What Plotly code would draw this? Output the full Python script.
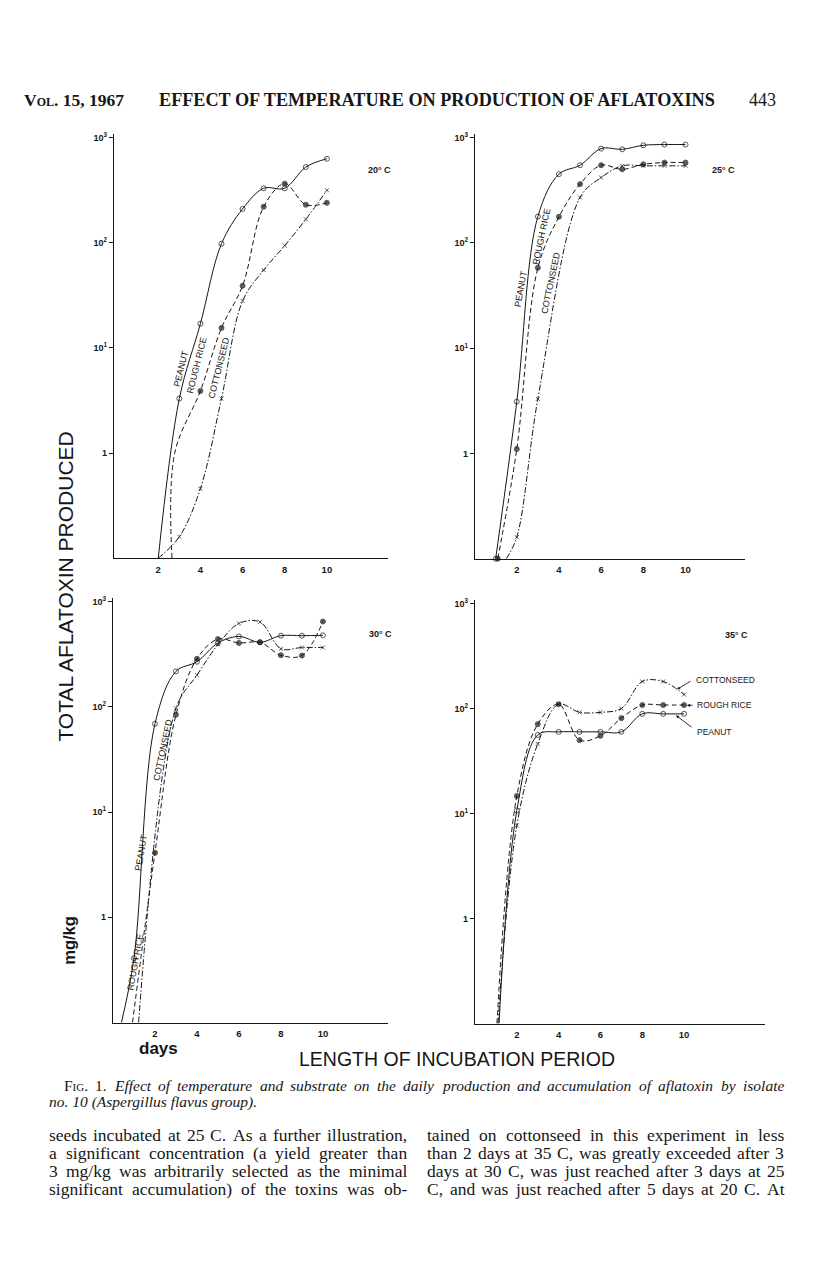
import plotly.graph_objects as go

W, H = 816, 1270

# ---------------- data (mg/kg) ----------------
# 20 C
peanut20_day = [2, 3, 4, 5, 6, 7, 8, 9, 10]
peanut20_val = [0.1, 3.3, 17, 98, 210, 330, 330, 525, 630]
rice20_day = [2.65, 2.78, 4, 5, 6, 7, 8, 9, 10]
rice20_val = [0.1, 1.0, 3.9, 15.5, 39, 220, 365, 230, 240]
cotton20_day = [2, 3, 4, 5, 6, 7, 8, 9, 10]
cotton20_val = [0.1, 0.16, 0.46, 3.3, 28, 55, 94, 167, 316]

# 25 C
peanut25_day = [1, 2, 3, 4, 5, 6, 7, 8, 9, 10]
peanut25_val = [0.1, 3.1, 178, 450, 547, 787, 775, 846, 860, 860]
rice25_day = [1.1, 2, 3, 4, 5, 6, 7, 8, 9, 10]
rice25_val = [0.1, 1.1, 58, 177, 362, 547, 500, 558, 580, 580]
cotton25_day = [1.5, 2, 3, 5, 6, 7, 8, 9, 10]
cotton25_val = [0.1, 0.16, 3.3, 270, 418, 540, 540, 540, 540]

# 30 C
peanut30_day = [0.4, 1, 2, 3, 4, 5, 6, 7, 8, 9, 10]
peanut30_val = [0.1, 0.41, 69, 217, 268, 404, 466, 410, 474, 474, 478]
rice30_day = [0.93, 2, 3, 4, 5, 6, 7, 8, 9, 10]
rice30_val = [0.1, 4.1, 84, 286, 440, 404, 410, 309, 307, 646]
cotton30_day = [1.22, 3, 4, 5, 6, 7, 8, 9, 10]
cotton30_val = [0.1, 97, 200, 390, 620, 640, 356, 366, 366]

# 35 C
peanut35_day = [1.15, 2, 3, 4, 5, 6, 7, 8, 9, 10]
peanut35_val = [0.1, 10.7, 56, 60, 60, 60, 60, 89, 89, 89]
rice35_day = [1.05, 2, 3, 4, 5, 6, 7, 8, 9, 10]
rice35_val = [0.1, 14.7, 71, 110, 50, 55, 81, 108, 108, 108]
cotton35_day = [1.1, 2, 3, 4, 5, 6, 7, 8, 9, 10]
cotton35_val = [0.1, 7.7, 46, 110, 92, 92, 100, 181, 181, 136]

temps = ["20° C", "25° C", "30° C", "35° C"]
substrates = ["PEANUT", "ROUGH RICE", "COTTONSEED"]
# number of leading (unmarked) curve points per series, per panel
unmarked_start = [[1, 2, 1], [0, 0, 1], [1, 1, 1], [1, 1, 1]]

y_tickvals = [1, 10, 100, 1000]
y_ticktext = ["1", "10<sup>1</sup>", "10<sup>2</sup>", "10<sup>3</sup>"]
x_tickvals = [2, 4, 6, 8, 10]
x_ticktext = ["2", "4", "6", "8", "10"]

series = [
    [(peanut20_day, peanut20_val), (rice20_day, rice20_val), (cotton20_day, cotton20_val)],
    [(peanut25_day, peanut25_val), (rice25_day, rice25_val), (cotton25_day, cotton25_val)],
    [(peanut30_day, peanut30_val), (rice30_day, rice30_val), (cotton30_day, cotton30_val)],
    [(peanut35_day, peanut35_val), (rice35_day, rice35_val), (cotton35_day, cotton35_val)],
]

# ---------------- layout geometry (pixels) ----------------
# (x_left_px, x_right_px, day_range, y_top_px, y_bottom_px)
panels = [
    (114, 388, [-0.1, 12.9], 131.8, 556.5),
    (475, 745, [0.02, 12.82], 131.8, 557.0),
    (113, 388, [0.0, 13.1], 596.8, 1022.0),
    (475, 765, [0.0, 13.87], 598.8, 1023.0),
]

INK = "#161616"
styles = [
    dict(dash="solid", symbol="circle-open", msize=5),
    dict(dash="5px,3px", symbol="circle", msize=5),
    dict(dash="6px,2px,1.5px,2px", symbol="x-thin-open", msize=4),
]

fig = go.Figure()
layout = dict(
    width=W, height=H, margin=dict(l=0, r=0, t=0, b=0),
    paper_bgcolor="white", plot_bgcolor="rgba(0,0,0,0)",
    showlegend=False, font=dict(family="Liberation Sans", color=INK),
)


def px(x, y):
    return x / W, 1 - y / H


for i, (xl, xr, drange, yt, yb) in enumerate(panels):
    n = i + 1
    xa = "x" if n == 1 else f"x{n}"
    ya = "y" if n == 1 else f"y{n}"
    layout["xaxis" if n == 1 else f"xaxis{n}"] = dict(
        domain=[xl / W, xr / W], range=drange, anchor=ya,
        showline=True, linecolor=INK, linewidth=1.3, showgrid=False, zeroline=False,
        tickvals=x_tickvals, ticktext=x_ticktext, ticks="",
        tickfont=dict(size=9.5, family="Liberation Sans", weight="bold", color=INK),
        ticklabelstandoff=2,
    )
    layout["yaxis" if n == 1 else f"yaxis{n}"] = dict(
        domain=[1 - yb / H, 1 - yt / H], type="log", range=[-1, 3.03], anchor=xa,
        showline=True, linecolor=INK, linewidth=1.3, showgrid=False, zeroline=False,
        tickvals=y_tickvals, ticktext=y_ticktext, ticks="outside", ticklen=4,
        tickcolor=INK, tickwidth=1,
        tickfont=dict(size=9, family="Liberation Sans", weight="bold", color=INK),
    )
    for j, (d, v) in enumerate(series[i]):
        st = styles[j]
        sizes = [st["msize"]] * len(d)
        for k in range(unmarked_start[i][j]):
            sizes[k] = 0
        fig.add_trace(go.Scatter(
            x=d, y=v, xaxis=xa, yaxis=ya, mode="lines+markers",
            line=dict(color=INK, width=1, dash=st["dash"], shape="spline", smoothing=1.0),
            marker=dict(symbol=st["symbol"], size=sizes, color=INK,
                        line=dict(color=INK, width=1)),
            cliponaxis=False, name=substrates[j],
        ))

annotations = []


def add_text(x, y, text, size=9, angle=0, xanchor="center", family="Liberation Sans",
             weight="normal", style="normal", variant="normal", yanchor="middle"):
    ax_, ay_ = px(x, y)
    annotations.append(dict(
        x=ax_, y=ay_, xref="paper", yref="paper", text=text, showarrow=False,
        textangle=angle, xanchor=xanchor, yanchor=yanchor,
        font=dict(size=size, family=family, color=INK, weight=weight, style=style,
                  variant=variant),
    ))


# temperature labels
add_text(379, 167, temps[0], size=9, weight="bold")
add_text(723, 167, temps[1], size=9, weight="bold")
add_text(380, 632, temps[2], size=9, weight="bold")
add_text(736, 633, temps[3], size=9, weight="bold")

# curve labels (rotated)
add_text(181, 367, substrates[0], size=9, angle=-76)
add_text(197, 363, substrates[1], size=9, angle=-76)
add_text(219, 366, substrates[2], size=9, angle=-76)
add_text(521, 287, substrates[0], size=9, angle=-80)
add_text(542, 234, substrates[1], size=9, angle=-78)
add_text(551, 281, substrates[2], size=9, angle=-78)
add_text(141, 852, substrates[0], size=9, angle=-80)
add_text(135, 961, substrates[1], size=9, angle=-80)
add_text(163, 749, substrates[2], size=9, angle=-78)

# 35 C labels with arrows
add_text(694, 679, substrates[2], size=8.5, xanchor="left")
add_text(695, 704, substrates[1], size=8.5, xanchor="left")
add_text(695, 731, substrates[0], size=8.5, xanchor="left")
for (tx, ty, hx, hy) in [(692, 679, 677, 688), (694, 704, 687, 704), (693, 727, 676, 714)]:
    hx_, hy_ = px(hx, hy)
    annotations.append(dict(
        x=hx_, y=hy_, xref="paper", yref="paper", text="", showarrow=True,
        ax=tx - hx, ay=ty - hy, axref="pixel", ayref="pixel",
        arrowhead=2, arrowsize=0.7, arrowwidth=0.9, arrowcolor=INK,
    ))

# shared axis titles
add_text(66, 585, "TOTAL AFLATOXIN PRODUCED", size=21, angle=-90)
add_text(69, 940, "mg/kg", size=16.5, angle=-90, weight="bold")
add_text(158, 1048, "days", size=17, weight="bold")
add_text(457, 1058, "LENGTH OF INCUBATION PERIOD", size=19.5)

# running head
add_text(22, 97, "Vol. 15, 1967", size=17.5, xanchor="left", family="Liberation Serif",
         weight="bold", variant="small-caps")
add_text(437, 97, "EFFECT OF TEMPERATURE ON PRODUCTION OF AFLATOXINS", size=18.2,
         family="Liberation Serif", weight="bold")
add_text(778, 97, "443", size=18, xanchor="right", family="Liberation Serif")

# ---------------- justified serif text ----------------
TR = dict(zip(" ,.-()/0123456789:;'", [250, 250, 250, 333, 333, 333, 278] + [500] * 10 + [278, 278, 333]))
TR.update(dict(zip("ABCDEFGHIJKLMNOPQRSTUVWXYZ",
                   [722, 667, 667, 722, 611, 556, 722, 722, 333, 389, 722, 611, 889, 722, 722,
                    556, 722, 667, 556, 611, 722, 722, 944, 722, 722, 611])))
TR.update(dict(zip("abcdefghijklmnopqrstuvwxyz",
                   [444, 500, 444, 500, 444, 333, 500, 500, 278, 278, 500, 278, 778, 500, 500,
                    500, 500, 333, 389, 278, 500, 500, 722, 500, 500, 444])))
TI = dict(zip(" ,.-()/0123456789:;'", [250, 250, 250, 333, 333, 333, 278] + [500] * 10 + [333, 333, 333]))
TI.update(dict(zip("ABCDEFGHIJKLMNOPQRSTUVWXYZ",
                   [611, 611, 667, 722, 611, 611, 722, 722, 333, 444, 667, 556, 833, 667, 722,
                    611, 722, 611, 500, 556, 722, 611, 833, 611, 556, 556])))
TI.update(dict(zip("abcdefghijklmnopqrstuvwxyz",
                   [500, 500, 444, 500, 444, 278, 500, 500, 278, 278, 444, 278, 722, 500, 500,
                    500, 500, 389, 389, 278, 500, 389, 667, 444, 444, 389])))


def width(word, table, size):
    return sum(table.get(c, 500) for c in word) * size / 1000.0


def justify(words, x0, x1, y, size, italic_from=99, smallcaps=(), widths_override=None):
    ws = []
    for k, w in enumerate(words):
        if widths_override and k in widths_override:
            ws.append(widths_override[k] * size)
        else:
            ws.append(width(w, TI if k >= italic_from else TR, size))
    gap = (x1 - x0 - sum(ws)) / (len(words) - 1)
    x = x0
    for k, (w, wd) in enumerate(zip(words, ws)):
        add_text(x, y, w, size=size, xanchor="left", family="Liberation Serif",
                 style="italic" if k >= italic_from else "normal",
                 variant="small-caps" if k in smallcaps else "normal")
        x += wd + gap


cap1 = ("Fig. 1. Effect of temperature and substrate on the daily production "
        "and accumulation of aflatoxin by isolate").split()
justify(cap1, 62, 782, 1085, 15.5, italic_from=2, smallcaps=(0,), widths_override={0: 1.55})
add_text(47, 1102, "no. 10 (Aspergillus flavus group).", size=15.5, xanchor="left",
         family="Liberation Serif", style="italic")

left_col = [
    "seeds incubated at 25 C. As a further illustration,",
    "a significant concentration (a yield greater than",
    "3 mg/kg was arbitrarily selected as the minimal",
    "significant accumulation) of the toxins was ob-",
]
right_col = [
    "tained on cottonseed in this experiment in less",
    "than 2 days at 35 C, was greatly exceeded after 3",
    "days at 30 C, was just reached after 3 days at 25",
    "C, and was just reached after 5 days at 20 C. At",
]
line_y = [1135, 1153, 1171, 1189]
for txt, yy in zip(left_col, line_y):
    justify(txt.split(), 47, 405, yy, 17.5)
for txt, yy in zip(right_col, line_y):
    justify(txt.split(), 425, 782, yy, 17.5)

layout["annotations"] = annotations
fig.update_layout(**layout)
fig.write_html("out.html", config={"displayModeBar": False},
               post_script="document.body.style.margin='0px';document.body.style.padding='0px';")
